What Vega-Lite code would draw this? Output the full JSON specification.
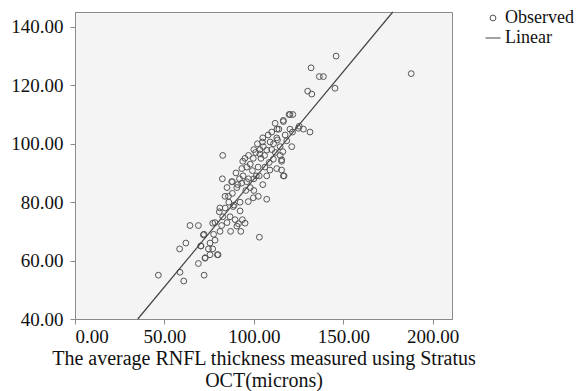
{
  "$schema": "https://vega.github.io/schema/vega-lite/v6.json",
  "width": 377,
  "height": 307,
  "autosize": {"type": "none"},
  "padding": {"left": 75, "top": 12, "right": 124, "bottom": 72},
  "background": "white",
  "config": {
    "view": {"fill": "#f4f4f4", "stroke": "#8a8a8a", "strokeWidth": 1},
    "font": "Liberation Serif",
    "axis": {
      "labelFont": "Liberation Serif",
      "titleFont": "Liberation Serif",
      "labelFontSize": 19,
      "titleFontSize": 20,
      "labelColor": "#111",
      "titleColor": "#111",
      "titleFontWeight": "normal",
      "domainColor": "#8a8a8a",
      "tickColor": "#8a8a8a",
      "tickSize": 5,
      "grid": false
    },
    "legend": {"labelFont": "Liberation Serif", "labelFontSize": 18, "labelColor": "#111"}
  },
  "datasets": {
    "obs": [
      {"x": 46.6, "y": 55}, {"x": 58.7, "y": 56}, {"x": 60.8, "y": 53}, {"x": 58.5, "y": 64},
      {"x": 62, "y": 66}, {"x": 64.3, "y": 72}, {"x": 69, "y": 72}, {"x": 69, "y": 59},
      {"x": 72.2, "y": 55}, {"x": 72.8, "y": 61}, {"x": 72.1, "y": 69}, {"x": 70.5, "y": 65},
      {"x": 74.6, "y": 64}, {"x": 75.5, "y": 62}, {"x": 77, "y": 64}, {"x": 75.5, "y": 66},
      {"x": 78.3, "y": 67}, {"x": 77.5, "y": 69}, {"x": 78.3, "y": 73}, {"x": 80, "y": 62},
      {"x": 81.1, "y": 70}, {"x": 82, "y": 72}, {"x": 80.7, "y": 76.7}, {"x": 81, "y": 78},
      {"x": 82.6, "y": 75}, {"x": 83.9, "y": 82}, {"x": 85.8, "y": 82}, {"x": 86.7, "y": 75},
      {"x": 88.5, "y": 78.5}, {"x": 89.5, "y": 74}, {"x": 90.5, "y": 71.8}, {"x": 91.4, "y": 72.6},
      {"x": 92.3, "y": 77}, {"x": 92.7, "y": 70}, {"x": 95.1, "y": 72.8}, {"x": 93.6, "y": 74},
      {"x": 92.3, "y": 80}, {"x": 96.9, "y": 80.2}, {"x": 99.7, "y": 81.5}, {"x": 102.5, "y": 82},
      {"x": 107.2, "y": 81}, {"x": 103.1, "y": 68}, {"x": 90.5, "y": 85}, {"x": 93.2, "y": 86.5},
      {"x": 95.5, "y": 84}, {"x": 98, "y": 85}, {"x": 100, "y": 84}, {"x": 87.6, "y": 87},
      {"x": 82.6, "y": 96}, {"x": 82.4, "y": 88}, {"x": 88, "y": 87}, {"x": 92, "y": 88},
      {"x": 93.8, "y": 94}, {"x": 93.3, "y": 91.5}, {"x": 99.2, "y": 90.8}, {"x": 95, "y": 95},
      {"x": 99.7, "y": 95}, {"x": 103.4, "y": 96.5}, {"x": 105.3, "y": 99}, {"x": 104.8, "y": 100.6},
      {"x": 109.1, "y": 100.6}, {"x": 107.2, "y": 97.8}, {"x": 112.8, "y": 102}, {"x": 111.9, "y": 107},
      {"x": 116.5, "y": 108}, {"x": 114, "y": 105}, {"x": 120.2, "y": 110}, {"x": 121.8, "y": 110},
      {"x": 120.2, "y": 105}, {"x": 121.2, "y": 99}, {"x": 116.5, "y": 89}, {"x": 115.5, "y": 91},
      {"x": 114.7, "y": 96}, {"x": 110.9, "y": 94.7}, {"x": 106.2, "y": 92}, {"x": 102.4, "y": 92},
      {"x": 101.4, "y": 89}, {"x": 107.2, "y": 89}, {"x": 109, "y": 91}, {"x": 112.8, "y": 91.5},
      {"x": 108.6, "y": 93.6}, {"x": 103.4, "y": 98}, {"x": 110, "y": 98}, {"x": 114.7, "y": 99},
      {"x": 117.5, "y": 103}, {"x": 118.4, "y": 101}, {"x": 111, "y": 100}, {"x": 115.5, "y": 94},
      {"x": 124.9, "y": 105.3}, {"x": 146, "y": 130}, {"x": 132, "y": 126}, {"x": 136.6, "y": 123},
      {"x": 138.9, "y": 123}, {"x": 145.4, "y": 119}, {"x": 130.1, "y": 118}, {"x": 132.4, "y": 117},
      {"x": 119.7, "y": 110}, {"x": 125.4, "y": 106}, {"x": 127.7, "y": 105}, {"x": 131.4, "y": 104},
      {"x": 121.6, "y": 104}, {"x": 116.5, "y": 107.6}, {"x": 116.2, "y": 97.3}, {"x": 115.6, "y": 94.5},
      {"x": 116.9, "y": 89}, {"x": 113.2, "y": 101.3}, {"x": 188, "y": 124}, {"x": 71.8, "y": 68.8},
      {"x": 77, "y": 72.8}, {"x": 70.3, "y": 65}, {"x": 72.7, "y": 60.8}, {"x": 79.6, "y": 62},
      {"x": 85, "y": 85}, {"x": 86, "y": 80}, {"x": 88, "y": 83}, {"x": 90, "y": 90},
      {"x": 91, "y": 86}, {"x": 94, "y": 89}, {"x": 96, "y": 92}, {"x": 97, "y": 96},
      {"x": 98, "y": 93}, {"x": 100, "y": 98}, {"x": 101, "y": 97}, {"x": 102, "y": 100},
      {"x": 104, "y": 95}, {"x": 105, "y": 102}, {"x": 106, "y": 96}, {"x": 108, "y": 103},
      {"x": 110, "y": 104}, {"x": 112, "y": 97}, {"x": 113, "y": 105}, {"x": 100, "y": 88},
      {"x": 97, "y": 88}, {"x": 96, "y": 87}, {"x": 103, "y": 89}, {"x": 105, "y": 86},
      {"x": 89, "y": 79}, {"x": 84, "y": 78}, {"x": 85, "y": 73}, {"x": 87, "y": 70}
    ],
    "fit": [{"x": 35.1, "y": 40}, {"x": 177.7, "y": 145.1}]
  },
  "layer": [
    {
      "data": {"name": "obs"},
      "mark": {"type": "point", "filled": false, "strokeWidth": 1, "opacity": 1},
      "encoding": {
        "x": {
          "field": "x", "type": "quantitative",
          "scale": {"domain": [0, 210.8], "nice": false, "zero": false},
          "axis": {
            "values": [0, 50, 100, 150, 200], "format": ".2f",
            "labelPadding": 3, "titlePadding": 2,
            "title": ["The average RNFL thickness measured using Stratus", "OCT(microns)"]
          }
        },
        "y": {
          "field": "y", "type": "quantitative",
          "scale": {"domain": [40, 145.1], "nice": false, "zero": false},
          "axis": {"values": [40, 60, 80, 100, 120, 140], "format": ".2f", "labelPadding": 7, "title": null}
        },
        "shape": {
          "datum": "Observed", "type": "nominal",
          "scale": {"domain": ["Observed", "Linear"], "range": ["circle", "stroke"]},
          "legend": {"title": null}
        },
        "size": {
          "datum": "Observed", "type": "nominal",
          "scale": {"type": "ordinal", "domain": ["Observed", "Linear"], "range": [34, 225]},
          "legend": {"title": null}
        },
        "color": {
          "datum": "Observed", "type": "nominal",
          "scale": {"domain": ["Observed", "Linear"], "range": ["#555555", "#444444"]},
          "legend": {
            "title": null,
            "orient": "none",
            "legendX": 409,
            "legendY": -3,
            "rowPadding": 2,
            "labelOffset": 3,
            "symbolStrokeWidth": 1
          }
        }
      }
    },
    {
      "data": {"name": "fit"},
      "mark": {"type": "line", "strokeWidth": 1.2},
      "encoding": {
        "x": {"field": "x", "type": "quantitative"},
        "y": {"field": "y", "type": "quantitative"},
        "color": {"datum": "Linear", "type": "nominal"}
      }
    }
  ]
}
